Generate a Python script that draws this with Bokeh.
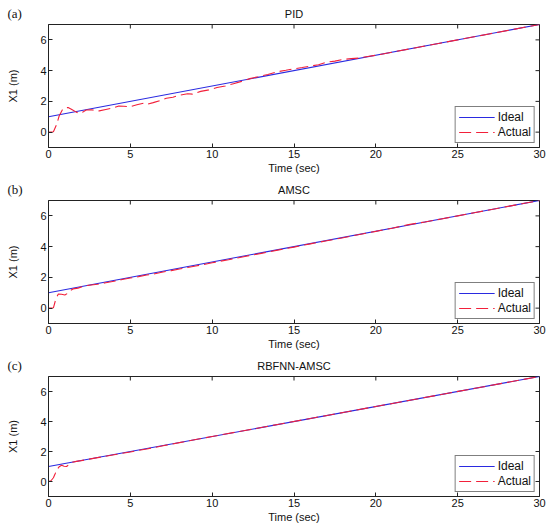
from bokeh.plotting import figure
from bokeh.models import FixedTicker, Range1d, Legend, LegendItem, Title
from bokeh.layouts import column
from bokeh.embed import file_html
from bokeh.resources import INLINE

# ---------------- data ----------------
x_lim = [0, 30]
y_lim = [-1, 7]
x_ticks = [0, 5, 10, 15, 20, 25, 30]
y_ticks = [0, 2, 4, 6]

ideal_t = [0, 30]
ideal_x = [1, 7]

pid_t = [0, 0.3, 0.5, 0.65, 0.85, 1.0, 1.2, 1.45, 1.7, 1.9, 2.1, 2.3, 2.6, 2.9, 3.1,
         3.5, 3.9, 4.3, 4.6, 5.0, 5.4, 5.8, 6.0, 6.4, 6.8, 7.2, 7.6, 8.0, 8.5, 8.8,
         9.3, 9.8, 10.3, 10.8, 11.3, 11.8, 12.3, 12.8, 13.4, 14.0, 14.5, 15.0, 15.5,
         16.0, 16.5, 17.0, 17.5, 18.0, 18.5, 19.0, 19.5, 20.0, 21, 22, 23, 24, 25,
         26, 27, 28, 29, 30]
pid_x = [0, 0.02, 0.5, 1.05, 1.45, 1.58, 1.6, 1.45, 1.3, 1.22, 1.3, 1.44, 1.46, 1.4,
         1.38, 1.47, 1.56, 1.7, 1.68, 1.65, 1.78, 1.88, 1.8, 1.92, 2.05, 2.2, 2.27,
         2.4, 2.5, 2.47, 2.65, 2.75, 2.9, 3.0, 3.15, 3.3, 3.48, 3.6, 3.75, 3.93, 4.02,
         4.12, 4.2, 4.3, 4.38, 4.55, 4.62, 4.73, 4.78, 4.82, 4.92, 5.0, 5.2, 5.4, 5.6,
         5.8, 6.0, 6.2, 6.4, 6.6, 6.8, 7.0]

amsc_t = [0, 0.3, 0.45, 0.6, 0.8, 1.0, 1.15, 1.3, 1.5, 1.8, 2.2, 2.6, 3.0, 3.5, 4.0,
          4.5, 5.0, 5.5, 6.0, 6.5, 7.0, 7.5, 8.0, 8.5, 9.0, 9.5, 10.0, 11, 12, 13, 14,
          15, 16, 17, 18, 19, 20, 21, 22, 22.5, 23, 24, 25, 26, 27, 28, 29, 30]
amsc_x = [0, 0.02, 0.6, 0.92, 0.9, 0.85, 0.95, 1.12, 1.25, 1.3, 1.45, 1.5, 1.55, 1.65,
          1.75, 1.86, 1.96, 2.05, 2.15, 2.24, 2.35, 2.44, 2.55, 2.64, 2.74, 2.84, 2.95,
          3.15, 3.36, 3.56, 3.77, 3.97, 4.18, 4.38, 4.58, 4.79, 4.99, 5.2, 5.43, 5.52,
          5.6, 5.8, 6.0, 6.2, 6.4, 6.6, 6.8, 7.0]

rb_t = [0, 0.15, 0.3, 0.4, 0.5, 0.65, 0.8, 0.95, 1.1, 1.25, 1.45, 1.7, 2.0, 2.5, 3, 4,
        5, 6, 7, 8, 9, 10, 12, 14, 16, 18, 20, 22, 24, 26, 28, 30]
rb_x = [0, 0.05, 0.25, 0.5, 0.78, 0.98, 1.08, 1.02, 1.0, 1.12, 1.28, 1.34, 1.39, 1.49,
        1.59, 1.78, 1.97, 2.17, 2.38, 2.59, 2.8, 3.0, 3.4, 3.8, 4.2, 4.6, 5.0, 5.4,
        5.8, 6.2, 6.6, 7.0]

titles = ["PID", "AMSC", "RBFNN-AMSC"]
tags = ["(a)", "(b)", "(c)"]
series = [(pid_t, pid_x), (amsc_t, amsc_x), (rb_t, rb_x)]

FONT = "Liberation Sans"
AX = "#222222"
TXT = "#111111"
BLUE = "#2a2ae0"
RED = "#f2203a"


def style_axis(ax):
    ax.major_tick_in = 4
    ax.major_tick_out = 0
    ax.minor_tick_line_color = None
    ax.axis_line_color = AX
    ax.major_tick_line_color = AX
    ax.major_label_text_font = FONT
    ax.major_label_text_color = TXT
    ax.major_label_text_font_size = "11px"
    ax.major_label_standoff = 2
    ax.axis_label_text_font = FONT
    ax.axis_label_text_font_size = "11px"
    ax.axis_label_text_font_style = "normal"
    ax.axis_label_text_color = TXT


def make_panel(title, tag, act_t, act_x, h, top, bottom):
    p = figure(width=550, height=h, x_range=Range1d(*x_lim), y_range=Range1d(*y_lim),
               output_backend="svg", toolbar_location=None,
               min_border_left=48, min_border_right=11,
               min_border_top=top, min_border_bottom=bottom)
    p.xgrid.grid_line_color = None
    p.ygrid.grid_line_color = None
    p.outline_line_color = AX
    p.background_fill_color = "white"
    p.border_fill_color = "white"

    p.xaxis.ticker = FixedTicker(ticks=x_ticks)
    p.yaxis.ticker = FixedTicker(ticks=y_ticks)
    p.xaxis.axis_label = "Time (sec)"
    p.xaxis.axis_label_standoff = 1
    p.yaxis.axis_label = "X1 (m)"
    p.yaxis.axis_label_standoff = 18
    style_axis(p.xaxis[0])
    style_axis(p.yaxis[0])

    # inward ticks on the top and right edges of the box
    p.ray(x=x_ticks, y=y_lim[1], length=4, length_units="screen",
          angle=-90, angle_units="deg", line_color=AX, line_width=1)
    p.ray(x=x_lim[1], y=y_ticks, length=4, length_units="screen",
          angle=180, angle_units="deg", line_color=AX, line_width=1)

    p.title.text = title
    p.title.align = "center"
    p.title.text_font = FONT
    p.title.text_font_size = "11px"
    p.title.text_font_style = "normal"
    p.title.text_color = TXT
    p.title.standoff = -39

    # panel tag, on the same line as the title, at the far left
    p.add_layout(Title(text=tag, align="left", offset=-41, standoff=7,
                       text_font="Liberation Serif", text_font_size="13px",
                       text_font_style="normal", text_color=TXT), "above")

    r1 = p.line(ideal_t, ideal_x, line_color=BLUE, line_width=1.1)
    r2 = p.line(act_t, act_x, line_color=RED, line_width=1.1, line_dash="12 5")

    leg = Legend(items=[LegendItem(label="Ideal", renderers=[r1]),
                        LegendItem(label="Actual", renderers=[r2])],
                 location="bottom_right")
    leg.border_line_color = "black"
    leg.border_line_width = 1
    leg.background_fill_color = "white"
    leg.background_fill_alpha = 1
    leg.label_text_font = FONT
    leg.label_text_font_size = "12px"
    leg.label_text_color = TXT
    leg.glyph_width = 36
    leg.glyph_height = 12
    leg.label_height = 12
    leg.label_standoff = 3
    leg.spacing = 1
    leg.padding = 3
    leg.margin = 4
    p.add_layout(leg)
    return p


dims = [(176, 23, 29), (176, 24, 29), (173, 24, 29)]
figs = [make_panel(titles[i], tags[i], series[i][0], series[i][1], *dims[i])
        for i in range(3)]

layout = column(*figs, spacing=0)
open("out.html", "w").write(file_html(layout, INLINE))
